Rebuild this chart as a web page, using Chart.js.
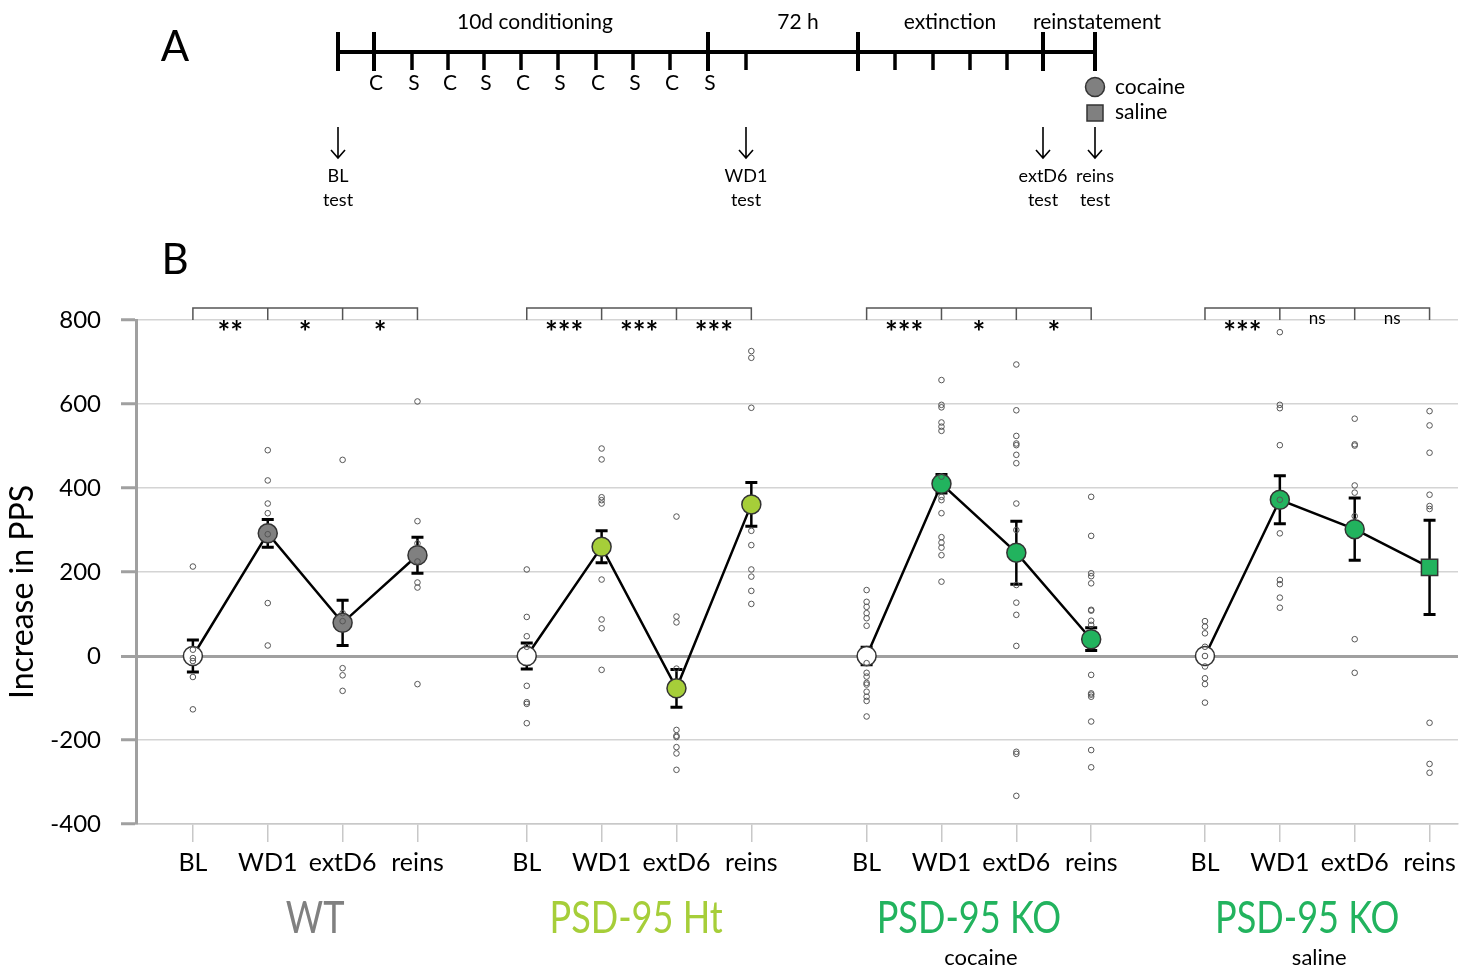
<!DOCTYPE html>
<html>
<head>
<meta charset="utf-8">
<script src="https://cdn.jsdelivr.net/npm/chart.js@4.4.1/dist/chart.umd.min.js"></script>
<style>
  body { margin: 0; background: #fff; }
  canvas { display: block; }
</style>
</head>
<body>
<canvas id="pps" width="1477" height="970"></canvas>
<script>
// time points and groups
const timepoints = ['BL', 'WD1', 'extD6', 'reins'];
const groupNames = ['WT', 'PSD-95 Ht', 'PSD-95 KO', 'PSD-95 KO'];
const groupNotes = ['', '', 'cocaine', 'saline'];

// group means and SEM (increase in PPS)
const wtMean = [0, 292, 79, 240];
const wtSem = [38, 33, 54, 43];
const htMean = [0, 260, -77, 361];
const htSem = [31, 38, 45, 52];
const koCocMean = [0, 410, 246, 40];
const koCocSem = [21, 22, 75, 27];
const koSalMean = [0, 372, 302, 211];
const koSalSem = [15, 57, 74, 112];

// individual animals
const wtPoints = [
  [213, 15, -5, -12, -50, -127],
  [490, 418, 363, 340, 290, 126, 25],
  [467, 102, 83, -29, -46, -83],
  [606, 321, 268, 225, 175, 163, -67]
];
const htPoints = [
  [206, 93, 47, 22, -71, -110, -114, -160],
  [494, 468, 378, 371, 363, 182, 87, 66, -33],
  [332, 94, 80, -30, -176, -190, -193, -217, -232, -271],
  [726, 710, 591, 298, 264, 206, 189, 155, 124]
];
const koCocPoints = [
  [157, 129, 117, 102, 90, 72, -17, -40, -49, -64, -68, -85, -97, -107, -144],
  [657, 598, 592, 556, 546, 536, 427, 379, 371, 340, 283, 270, 258, 240, 177],
  [694, 585, 524, 506, 502, 479, 459, 363, 300, 169, 127, 98, 24, -228, -233, -333],
  [379, 286, 197, 190, 173, 110, 108, 84, 74, -45, -89, -92, -97, -156, -224, -265]
];
const koSalPoints = [
  [83, 70, 54, 22, 0, -25, -53, -67, -111],
  [771, 598, 590, 502, 372, 292, 181, 171, 139, 115],
  [565, 504, 501, 406, 389, 333, 40, -40],
  [583, 549, 484, 384, 357, 350, -159, -257, -278]
];

// significance vs previous time point
const sigLabels = [
  ['**', '*', '*'],
  ['***', '***', '***'],
  ['***', '*', '*'],
  ['***', 'ns', 'ns']
];

const yTicks = [-400, -200, 0, 200, 400, 600, 800];

// x slot of each time point (groups are spaced apart)
const catX = [0, 1, 2, 3, 4.46, 5.46, 6.46, 7.46, 9, 10, 11, 12, 13.52, 14.52, 15.52, 16.52];
const groupColors = ['#808080', '#a6ce39', '#22b35e', '#22b35e'];
const nameShift = [10, -3, -10, -10];

const means = [wtMean, htMean, koCocMean, koSalMean];
const sems = [wtSem, htSem, koCocSem, koSalSem];
const points = [wtPoints, htPoints, koCocPoints, koSalPoints];

const FONT = 'Lato, "Open Sans", sans-serif';

const datasets = [];
means.forEach((m, g) => {
  datasets.push({
    type: 'line',
    data: m.map((v, i) => ({ x: catX[g * 4 + i], y: v })),
    borderColor: '#000',
    borderWidth: 2.5,
    pointBackgroundColor: m.map((v, i) => i === 0 ? '#fff' : groupColors[g]),
    pointBorderColor: '#333',
    pointBorderWidth: 1.5,
    pointStyle: m.map((v, i) => (g === 3 && i === 3) ? 'rect' : 'circle'),
    pointRadius: m.map((v, i) => (g === 3 && i === 3) ? 11.5 : 9.5),
    order: 2
  });
});
const flat = [];
points.forEach((grp, g) => grp.forEach((arr, i) => arr.forEach(v => flat.push({ x: catX[g * 4 + i], y: v }))));
datasets.push({
  type: 'scatter',
  data: flat,
  pointRadius: 2.8,
  pointBackgroundColor: 'rgba(255,255,255,0)',
  pointBorderColor: '#555',
  pointBorderWidth: 1,
  order: 1
});

const errorBars = {
  id: 'errorBars',
  beforeDatasetsDraw(chart) {
    const ctx = chart.ctx, xs = chart.scales.x, ys = chart.scales.y;
    ctx.save();
    ctx.strokeStyle = '#000';
    means.forEach((m, g) => m.forEach((v, i) => {
      const x = xs.getPixelForValue(catX[g * 4 + i]);
      const t = ys.getPixelForValue(v + sems[g][i]);
      const b = ys.getPixelForValue(v - sems[g][i]);
      ctx.lineWidth = 2.5;
      ctx.beginPath(); ctx.moveTo(x, t); ctx.lineTo(x, b); ctx.stroke();
      ctx.lineWidth = 3;
      ctx.beginPath();
      ctx.moveTo(x - 6, t); ctx.lineTo(x + 6, t);
      ctx.moveTo(x - 6, b); ctx.lineTo(x + 6, b);
      ctx.stroke();
    }));
    ctx.restore();
  }
};

const extras = {
  id: 'extras',
  afterDraw(chart) {
    const ctx = chart.ctx, xs = chart.scales.x;
    ctx.save();
    ctx.textAlign = 'center';
    ctx.textBaseline = 'middle';
    ctx.fillStyle = '#000';

    // brackets with significance
    sigLabels.forEach((labs, g) => {
      const px = [0, 1, 2, 3].map(i => xs.getPixelForValue(catX[g * 4 + i]));
      ctx.strokeStyle = '#555';
      ctx.lineWidth = 1.5;
      ctx.beginPath();
      ctx.moveTo(px[0], 320); ctx.lineTo(px[0], 308); ctx.lineTo(px[3], 308); ctx.lineTo(px[3], 320);
      ctx.moveTo(px[1], 308); ctx.lineTo(px[1], 320);
      ctx.moveTo(px[2], 308); ctx.lineTo(px[2], 320);
      ctx.stroke();
      labs.forEach((s, i) => {
        const cx = (px[i] + px[i + 1]) / 2;
        if (s === 'ns') {
          ctx.font = '17px ' + FONT;
          ctx.fillText(s, cx, 319);
        } else {
          ctx.font = 'bold 30px ' + FONT;
          ctx.fillText(s, cx, 333);
        }
      });
    });

    // group names below the axis (condensed)
    groupNames.forEach((name, g) => {
      const cx = (xs.getPixelForValue(catX[g * 4]) + xs.getPixelForValue(catX[g * 4 + 3])) / 2 + nameShift[g];
      ctx.save();
      ctx.translate(cx, 919);
      ctx.scale(0.82, 1);
      ctx.font = '44px ' + FONT;
      ctx.fillStyle = groupColors[g];
      ctx.fillText(name, 0, 0);
      ctx.restore();
      if (groupNotes[g]) {
        ctx.font = '22px ' + FONT;
        ctx.fillStyle = '#000';
        ctx.fillText(groupNotes[g], cx + 12, 958);
      }
    });

    // y title
    ctx.save();
    ctx.translate(23, 592);
    ctx.rotate(-Math.PI / 2);
    ctx.font = '32px ' + FONT;
    ctx.fillStyle = '#000';
    ctx.fillText('Increase in PPS', 0, 0);
    ctx.restore();

    // panel letters
    ctx.fillStyle = '#000';
    ctx.font = '42px ' + FONT;
    ctx.fillText('A', 175, 47);
    ctx.fillText('B', 175, 260);

    // panel A: protocol timeline
    ctx.strokeStyle = '#000';
    ctx.lineWidth = 4;
    ctx.beginPath(); ctx.moveTo(338, 52); ctx.lineTo(1095, 52); ctx.stroke();
    [338, 374, 708, 858, 1043, 1095].forEach(x => {
      ctx.beginPath(); ctx.moveTo(x, 32); ctx.lineTo(x, 71); ctx.stroke();
    });
    ctx.lineWidth = 3.5;
    [412, 448, 484, 521, 558, 596, 633, 670, 746, 895, 933, 970, 1007].forEach(x => {
      ctx.beginPath(); ctx.moveTo(x, 52); ctx.lineTo(x, 70); ctx.stroke();
    });
    ctx.font = '21px ' + FONT;
    [374, 412, 448, 484, 521, 558, 596, 633, 670, 708].forEach((x, i) => {
      ctx.fillText(i % 2 === 0 ? 'C' : 'S', x + 2, 83);
    });
    ctx.font = '21px ' + FONT;
    ctx.fillText('10d conditioning', 535, 22);
    ctx.fillText('72 h', 798, 22);
    ctx.fillText('extinction', 950, 22);
    ctx.fillText('reinstatement', 1097, 22);

    const arrows = [[338, 'BL'], [746, 'WD1'], [1043, 'extD6'], [1095, 'reins']];
    ctx.lineWidth = 1.6;
    ctx.font = '18px ' + FONT;
    arrows.forEach(([x, lab]) => {
      ctx.beginPath();
      ctx.moveTo(x, 127); ctx.lineTo(x, 158);
      ctx.moveTo(x - 7, 150); ctx.lineTo(x, 158); ctx.lineTo(x + 7, 150);
      ctx.stroke();
      ctx.fillText(lab, x, 176);
      ctx.fillText('test', x, 200);
    });

    // reinstatement legend
    ctx.fillStyle = '#808080';
    ctx.strokeStyle = '#333';
    ctx.lineWidth = 1.5;
    ctx.beginPath(); ctx.arc(1095, 87, 9.5, 0, Math.PI * 2); ctx.fill(); ctx.stroke();
    ctx.fillRect(1087, 105, 16, 16); ctx.strokeRect(1087, 105, 16, 16);
    ctx.fillStyle = '#000';
    ctx.textAlign = 'left';
    ctx.font = '21px ' + FONT;
    ctx.fillText('cocaine', 1115, 87);
    ctx.fillText('saline', 1115, 112);
    ctx.restore();
  }
};

new Chart(document.getElementById('pps').getContext('2d'), {
  data: { datasets },
  options: {
    responsive: false,
    animation: false,
    layout: { padding: { top: 320, right: 19, bottom: 0, left: 0 } },
    plugins: { legend: { display: false }, tooltip: { enabled: false } },
    scales: {
      x: {
        type: 'linear',
        min: -0.76,
        max: 16.9,
        afterFit: s => { s.height = 146; },
        afterBuildTicks: s => { s.ticks = catX.map(v => ({ value: v })); },
        grid: { drawOnChartArea: false, tickLength: 18, color: '#c8c8c8', lineWidth: 1.5 },
        border: { color: '#c8c8c8', width: 1.5 },
        ticks: {
          autoSkip: false,
          maxRotation: 0,
          padding: 6,
          color: '#000',
          font: { family: FONT, size: 25 },
          callback: (v, i) => timepoints[i % 4]
        }
      },
      y: {
        min: -400,
        max: 800,
        afterFit: s => { s.width = 136; },
        afterBuildTicks: s => { s.ticks = yTicks.map(v => ({ value: v })); },
        grid: {
          color: c => c.tick && c.tick.value === 0 ? '#a0a0a0' : '#d4d4d4',
          lineWidth: c => c.tick && c.tick.value === 0 ? 3 : 1.5,
          tickLength: 15,
          tickColor: '#a0a0a0',
          tickWidth: 3
        },
        border: { color: '#a0a0a0', width: 3 },
        ticks: {
          padding: 20,
          color: '#000',
          font: { family: FONT, size: 24 }
        }
      }
    }
  },
  plugins: [errorBars, extras]
});
</script>
</body>
</html>
